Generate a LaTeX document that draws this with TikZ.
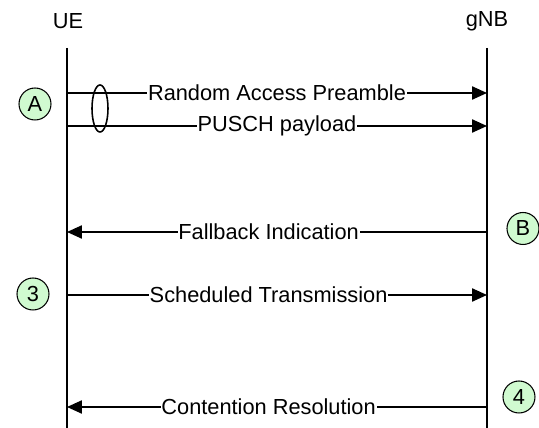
\documentclass[tikz,border=0pt]{standalone}
\usepackage{fontspec}
\setmainfont{Liberation Sans}
\usetikzlibrary{positioning,arrows.meta,calc,shapes.geometric}
\definecolor{StepGreen}{RGB}{208,250,208}

\begin{document}
\begin{tikzpicture}[x=0.02cm, y=-0.02cm, every node/.style={font=\fontsize{12.4}{14}\selectfont, align=center},
    lifeline/.style={line width=1pt},
    msg/.style={line width=0.9pt, -{Triangle[length=8.5pt, width=7.5pt]}},
    lbl/.style={fill=white, inner sep=0.5pt},
    stepcircle/.style={draw, circle, fill=StepGreen, line width=0.6pt, minimum size=0.64cm, inner sep=0pt}]
  \useasboundingbox (0,0) rectangle (539,428);

  \node (ue) at (68,21) {UE};
  \node (gnb) at (487,21) {gNB};
  \coordinate (ueTop) at (67,48);   \coordinate (ueBot) at (67,428);
  \coordinate (gnbTop) at (487,48); \coordinate (gnbBot) at (487,428);
  \draw[lifeline] (ueTop) -- (ueBot);
  \draw[lifeline] (gnbTop) -- (gnbBot);

  \coordinate (ueA) at (67,93);   \coordinate (gnbA) at (487,93);
  \coordinate (ueP) at (67,126);  \coordinate (gnbP) at (487,126);
  \coordinate (ueF) at (67,232);  \coordinate (gnbF) at (487,232);
  \coordinate (ueS) at (67,295);  \coordinate (gnbS) at (487,295);
  \coordinate (ueC) at (67,407);  \coordinate (gnbC) at (487,407);

  \draw[msg] (ueA) -- node[lbl, pos=0.5] {Random Access Preamble} (gnbA);
  \draw[msg] (ueP) -- node[lbl, pos=0.5] {PUSCH payload} (gnbP);
  \draw[msg] (gnbF) -- node[lbl, pos=0.52] {Fallback Indication} (ueF);
  \draw[msg] (ueS) -- node[lbl, pos=0.48] {Scheduled Transmission} (gnbS);
  \draw[msg] (gnbC) -- node[lbl, pos=0.52] {Contention Resolution} (ueC);

  \node[draw, ellipse, line width=0.9pt, minimum width=0.32cm, minimum height=0.94cm, inner sep=0pt] (grp) at (100,108.5) {};

  \node[stepcircle] (stepA) at (35,104) {A};
  \node[stepcircle] (stepB) at (523,228.5) {B};
  \node[stepcircle] (step3) at (33,294) {3};
  \node[stepcircle] (step4) at (519,397) {4};
\end{tikzpicture}
\end{document}
